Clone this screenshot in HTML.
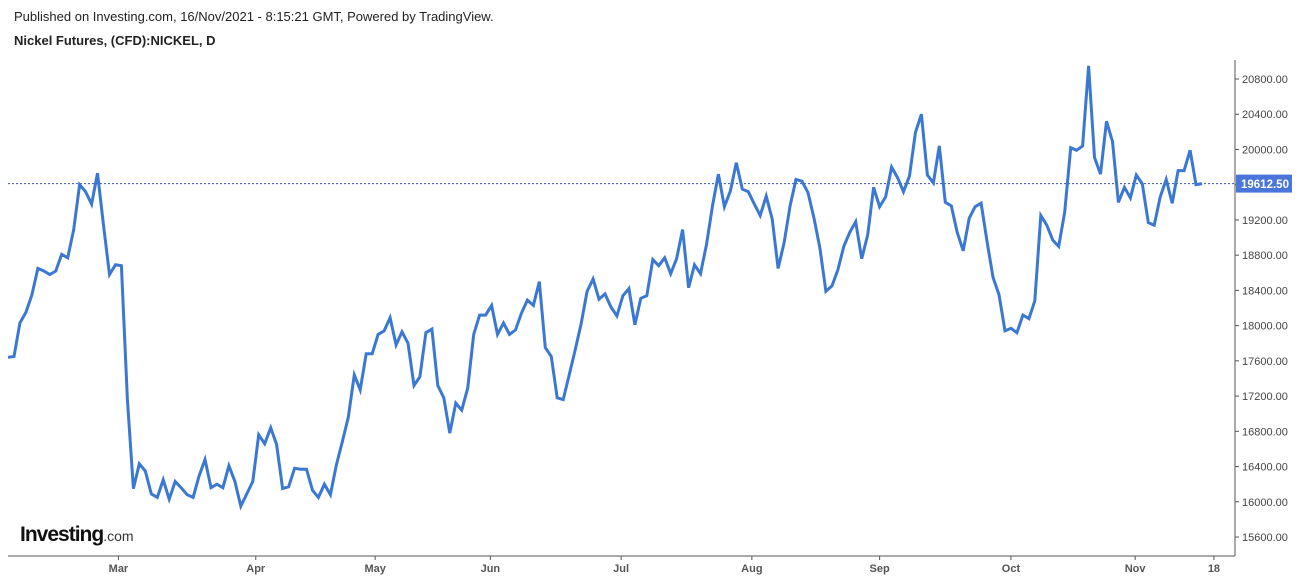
<!DOCTYPE html>
<html><head><meta charset="utf-8"><style>
body{margin:0;background:#fff;font-family:"Liberation Sans",Arial,sans-serif;}
#wrap{position:relative;width:1299px;height:580px;overflow:hidden;}
.hdr{position:absolute;left:14px;font-size:13px;color:#222;}
</style></head><body>
<div id="wrap">
<div class="hdr" style="top:9px">Published on Investing.com, 16/Nov/2021 - 8:15:21 GMT, Powered by TradingView.</div>
<div class="hdr" style="top:33px;font-weight:bold">Nickel Futures, (CFD):NICKEL, D</div>
<svg id="svg" width="1299" height="580" style="position:absolute;left:0;top:0">
<text x="20" y="541" font-size="21" font-weight="bold" fill="#111" font-family="Liberation Sans,Arial,sans-serif" letter-spacing="-1">Investing<tspan font-size="14" font-weight="normal" fill="#333" letter-spacing="0">.com</tspan></text>
</svg>
</div>
<script>
const prices=[17640,17650,18030,18150,18350,18650,18620,18580,18620,18810,18770,19090,19600,19520,19380,19730,19140,18580,18690,18680,17160,16150,16430,16350,16090,16050,16250,16030,16230,16160,16080,16050,16290,16480,16160,16200,16160,16410,16230,15950,16090,16230,16760,16660,16840,16650,16150,16170,16380,16370,16370,16130,16050,16200,16080,16420,16680,16960,17440,17270,17680,17680,17900,17940,18090,17780,17930,17800,17320,
17420,17920,17960,17320,17180,16780,17120,17040,17290,17900,18120,18120,18230,17900,18030,17900,17950,18140,18290,18230,18500,17750,17650,17180,17160,17440,17720,18020,18390,18530,18300,18360,18210,18110,18340,18420,18010,18310,18340,18750,18680,18770,18590,18760,19090,18430,18690,18590,18920,19360,19720,19350,19530,19850,19550,19520,19380,19250,19470,19210,18650,18940,19360,19660,19640,19510,19220,18880,18390,18450,
18630,18900,19060,19180,18760,19030,19570,19350,19460,19800,19680,19520,19700,20190,20400,19710,19620,20040,19400,19360,19060,18850,19220,19350,19390,18950,18550,18350,17940,17970,17920,18120,18080,18280,19250,19140,18970,18900,19290,20020,19990,20040,20950,19910,19720,20320,20090,19400,19570,19450,19710,19610,19170,19140,19460,19660,19390,19760,19760,19990,19600,19612.5];
const yTicks=[15600,16000,16400,16800,17200,17600,18000,18400,18800,19200,19600,20000,20400,20800];
const monthLabels=["Mar","Apr","May","Jun","Jul","Aug","Sep","Oct","Nov","18"];
const monthIdx=[18.5,41.5,61.5,80.8,102.7,124.6,146,168,188.8,202];
const lastPrice=19612.5;
const NS='http://www.w3.org/2000/svg';
const svg=document.getElementById('svg');
const X0=8,X1=1202,AX=1235,AY=556;
const xs=i=>X0+(X1-X0)*i/(prices.length-1);
const ys=v=>79+(20800-v)*0.08808;
function mk(t,a){const e=document.createElementNS(NS,t);for(const k in a)e.setAttribute(k,a[k]);svg.appendChild(e);return e;}
let l=mk('line',{x1:AX,y1:60,x2:AX,y2:AY,stroke:'#555','stroke-width':1});


l=mk('line',{x1:8,y1:AY,x2:AX,y2:AY,stroke:'#555','stroke-width':1});


yTicks.forEach(v=>{const y=ys(v);
 const t=mk('line',{x1:AX,y1:y,x2:AX+4,y2:y,stroke:'#555'});
 
 
 const tx=mk('text',{x:AX+7,y:y+4,'font-size':11,fill:'#444','font-family':'Liberation Sans,Arial,sans-serif'});
 tx.textContent=v.toFixed(2);
 
 
});
monthLabels.forEach((m,i)=>{const x=xs(monthIdx[i]);
 const t=mk('line',{x1:x,y1:AY,x2:x,y2:AY+4,stroke:'#555'});
 
 
 const tx=mk('text',{x:x,y:AY+16,'font-size':11,'font-weight':'bold',fill:'#555','text-anchor':'middle','font-family':'Liberation Sans,Arial,sans-serif'});
 tx.textContent=m;
 
 
});
const ly=ys(lastPrice);
l=mk('line',{x1:8,y1:ly,x2:AX,y2:ly,stroke:'#3f4fc0','stroke-width':1,'stroke-dasharray':'2,2'});


const p=mk('polyline',{points:prices.map((v,i)=>xs(i).toFixed(1)+','+ys(v).toFixed(1)).join(' '),fill:'none',stroke:'#3a78d4','stroke-width':3,'stroke-linejoin':'miter'});


const r=mk('rect',{x:AX+1,y:ly-9,width:56,height:18,fill:'#4a76dc'});


const bt=mk('text',{x:AX+6,y:ly+4.5,'font-size':11.5,'font-weight':'bold',fill:'#fff','font-family':'Liberation Sans,Arial,sans-serif'});
bt.textContent=lastPrice.toFixed(2);


</script>
</body></html>
